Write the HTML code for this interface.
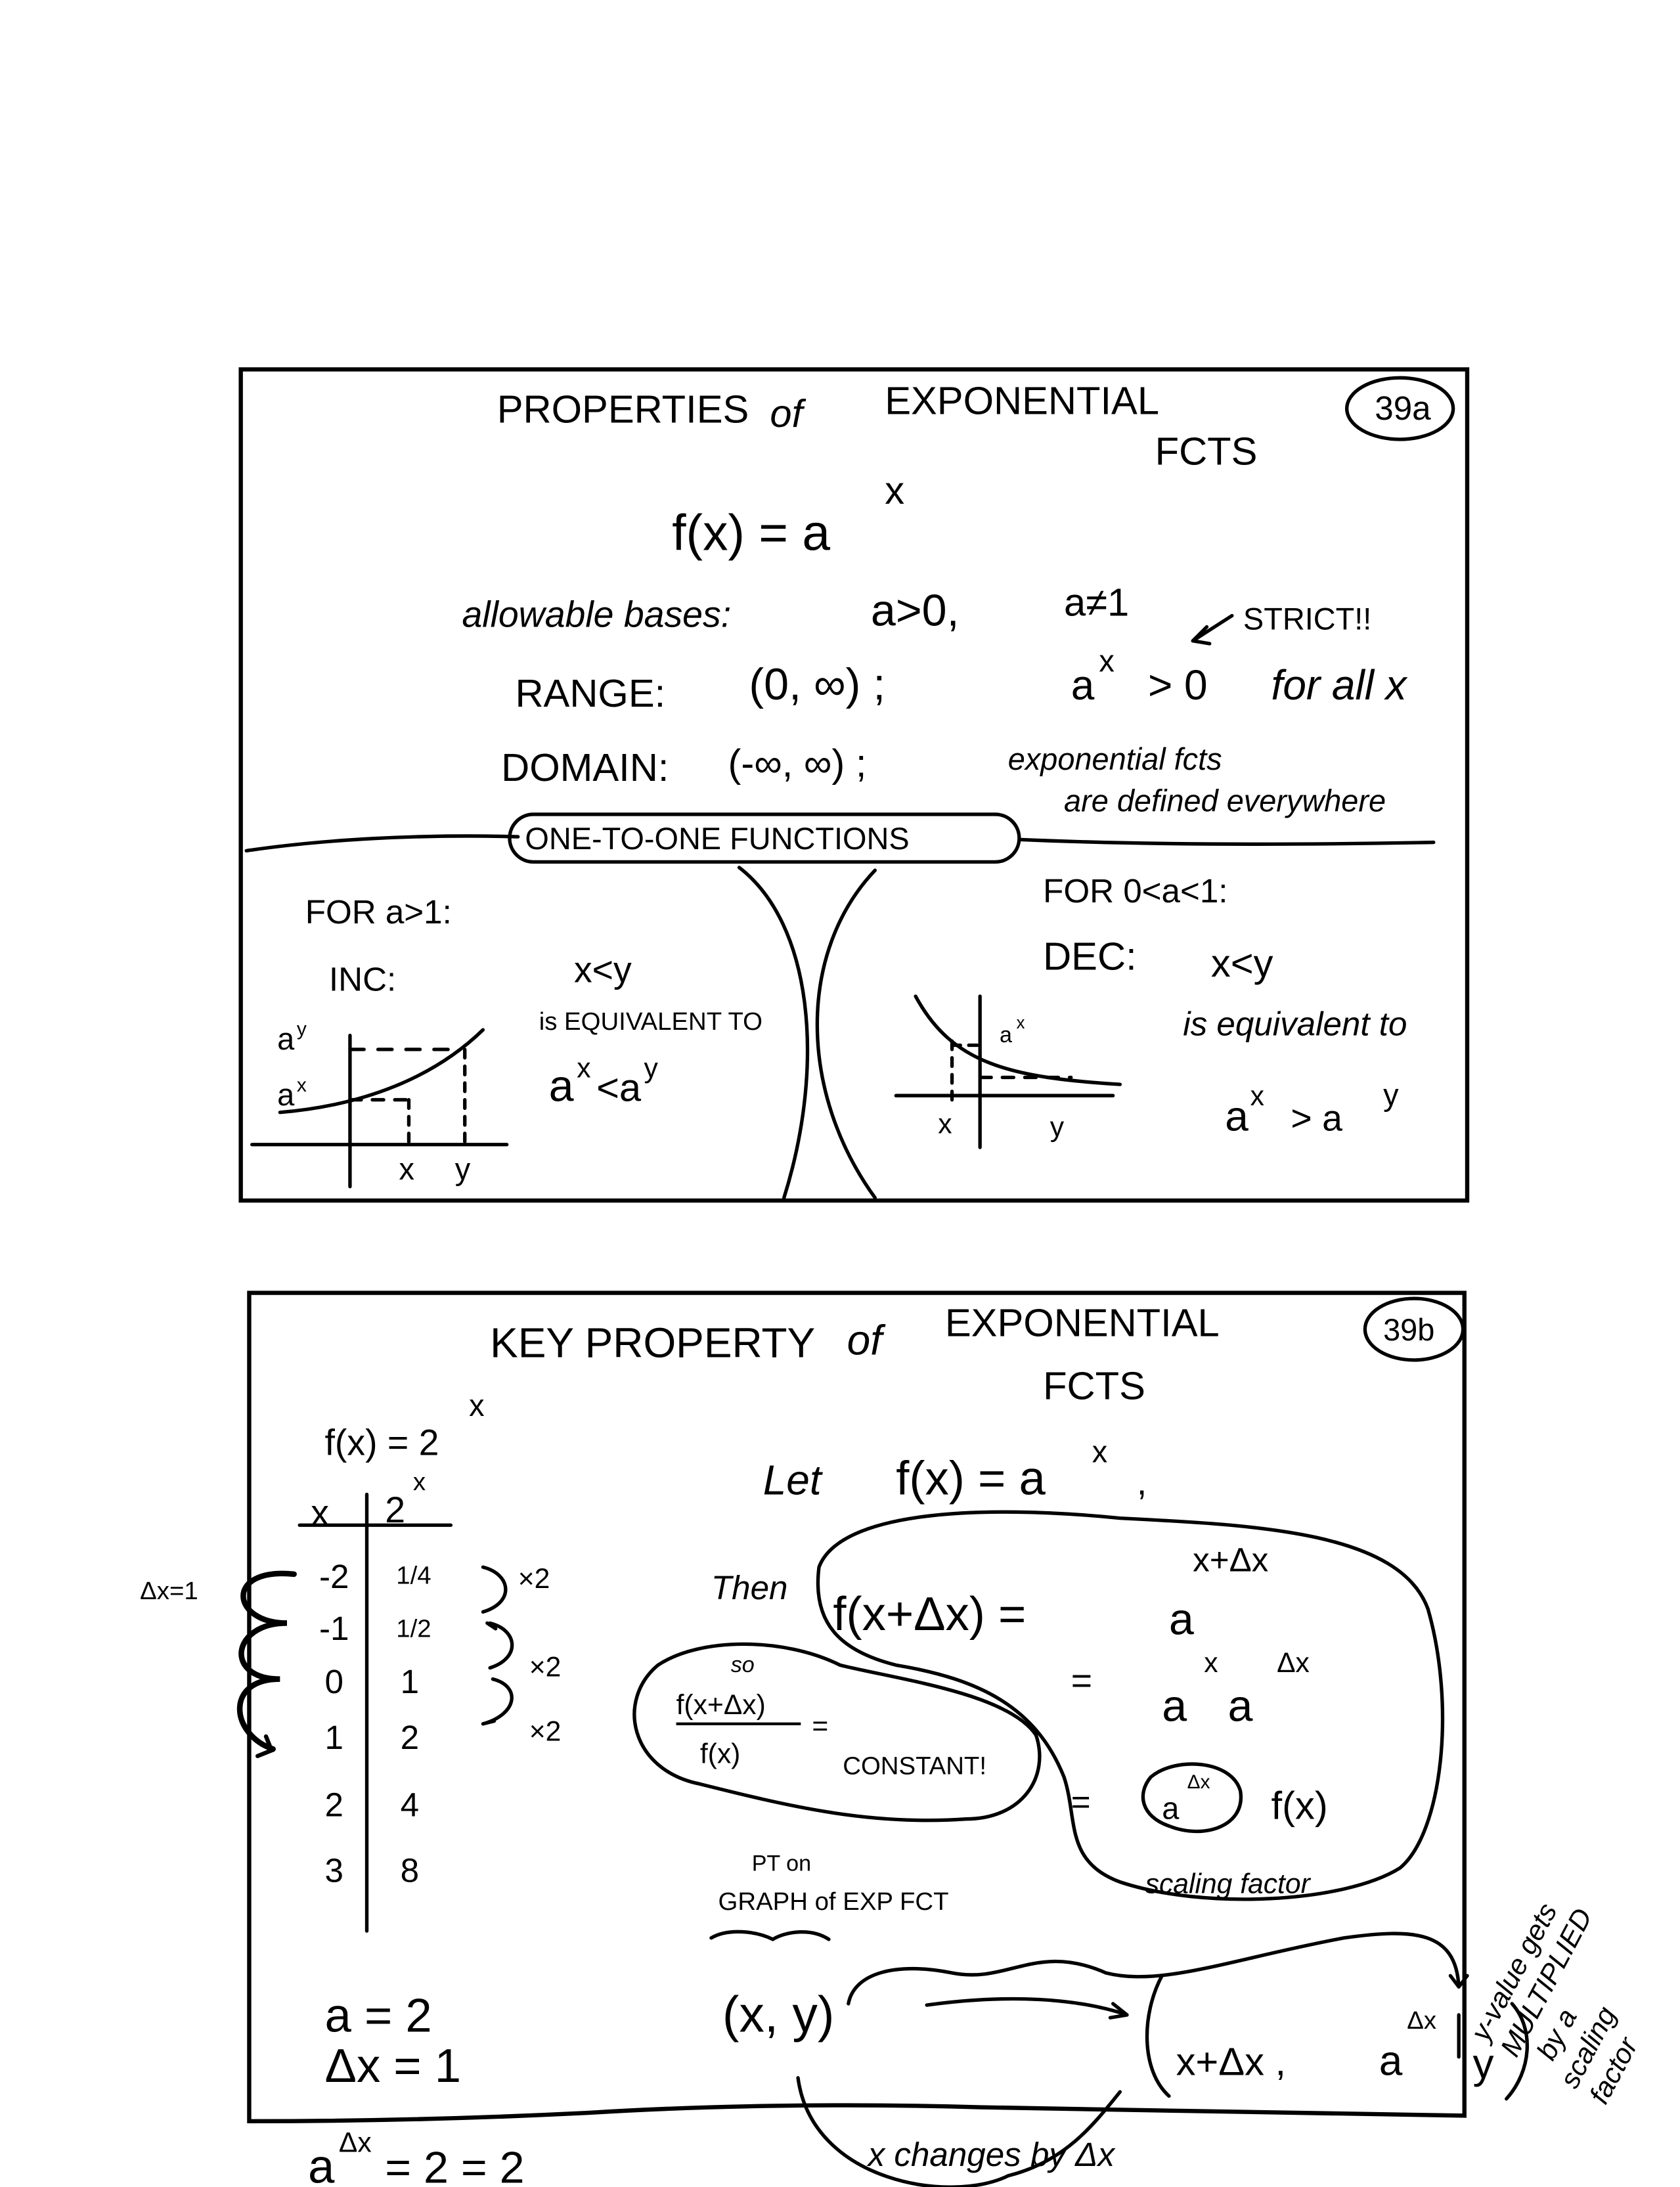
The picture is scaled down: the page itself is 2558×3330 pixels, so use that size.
<!DOCTYPE html>
<html><head><meta charset="utf-8">
<style>
html,body{margin:0;padding:0;background:#fff;}
svg{display:block;}
text{font-family:"Liberation Sans",sans-serif;fill:#000;}
.c{font-style:italic;}
</style></head>
<body>
<svg width="2558" height="3330" viewBox="0 0 1200 1563" preserveAspectRatio="none" xmlns="http://www.w3.org/2000/svg">
<g fill="none" stroke="#000" stroke-width="2.5" stroke-linecap="round">
<rect x="172" y="264" width="876" height="594" stroke-width="3"/>
<path d="M178 924 H1046 V1512 C900 1510 830 1508 700 1506 C600 1503 500 1505 420 1510 C340 1514 260 1516 178 1516 Z" stroke-width="3"/>
<ellipse cx="1000" cy="292" rx="38" ry="22"/>
<ellipse cx="1010" cy="950" rx="35" ry="22"/>
<path d="M176 608 C230 600 300 596 370 598"/>
<path d="M728 600 C820 604 920 604 1024 602"/>
<rect x="364" y="582" width="364" height="34" rx="17"/>
<path d="M528 620 C580 660 590 760 560 856"/>
<path d="M625 622 C570 680 570 780 625 856"/>
<path d="M180 818 H362"/>
<path d="M250 740 V848"/>
<path d="M200 795 C260 790 310 770 345 736"/>
<path d="M250 750 H330" stroke-dasharray="10 10"/>
<path d="M250 786 H292" stroke-dasharray="8 8"/>
<path d="M292 786 V818" stroke-dasharray="6 6"/>
<path d="M332 750 V818" stroke-dasharray="6 6"/>
<path d="M640 783 H795"/>
<path d="M700 712 V820"/>
<path d="M654 712 C680 760 720 770 800 775"/>
<path d="M680 744 V790" stroke-dasharray="6 6"/>
<path d="M680 747 H700" stroke-dasharray="6 6"/>
<path d="M700 770 H765" stroke-dasharray="8 8"/>
<path d="M880 440 L852 458 M852 458 L862 448 M852 458 L864 460"/>
<path d="M214 1090 H322"/>
<path d="M262 1068 V1380"/>
<path d="M345 1120 C365 1125 368 1145 345 1152"/>
<path d="M350 1160 C370 1165 372 1185 350 1192 M354 1164 l-6 -4"/>
<path d="M352 1200 C372 1205 370 1225 345 1232 M345 1232 l8 -2"/>
<path d="M210 1125 C160 1120 165 1160 205 1160 C165 1160 160 1200 200 1200 C160 1200 165 1240 195 1250" stroke-width="4"/>
<path d="M184 1255 l10 -4 l-4 -10" stroke-width="3"/>
<path d="M585 1120 C600 1080 700 1075 800 1085 C900 1090 1000 1095 1020 1150 C1040 1220 1030 1310 1000 1335 C960 1360 860 1365 800 1345 C760 1330 770 1300 760 1270 C740 1220 700 1200 640 1190 C600 1180 580 1160 585 1120 Z"/>
<path d="M470 1190 C500 1170 560 1170 600 1190 C640 1200 720 1210 740 1240 C750 1270 730 1300 690 1300 C620 1305 560 1290 500 1275 C450 1265 440 1215 470 1190 Z"/>
<path d="M822 1270 C840 1255 880 1258 886 1280 C890 1305 860 1315 835 1305 C815 1298 812 1282 822 1270 Z"/>
<path d="M508 1385 C520 1378 540 1380 552 1386 C562 1380 580 1378 592 1386"/>
<path d="M662 1433 C720 1425 770 1428 805 1440 M805 1440 l-10 -8 M805 1440 l-12 2"/>
<path d="M606 1432 C610 1410 640 1402 680 1410 C720 1418 740 1388 790 1410 C830 1420 880 1400 960 1385 C1010 1378 1040 1380 1042 1420 M1042 1420 l-6 -8 M1042 1420 l6 -8"/>
<path d="M570 1485 C580 1560 680 1575 720 1555 C760 1545 780 1520 800 1495"/>
<path d="M830 1412 C815 1440 815 1480 835 1498"/>
<path d="M1080 1432 C1096 1450 1094 1480 1076 1500"/>
<path d="M1042 1440 V1470"/>
</g>
<text x="355" y="302" font-size="28">PROPERTIES</text>
<text x="550" y="305" font-size="28" class="c">of</text>
<text x="632" y="296" font-size="28">EXPONENTIAL</text>
<text x="825" y="332" font-size="28">FCTS</text>
<text x="982" y="300" font-size="24">39a</text>
<text x="480" y="393" font-size="36">f(x) = a</text>
<text x="632" y="360" font-size="28">x</text>
<text x="330" y="448" font-size="26" class="c">allowable bases:</text>
<text x="622" y="447" font-size="32">a&gt;0,</text>
<text x="760" y="440" font-size="28">a≠1</text>
<text x="888" y="450" font-size="22">STRICT!!</text>
<text x="368" y="505" font-size="28">RANGE:</text>
<text x="535" y="500" font-size="32">(0, ∞) ;</text>
<text x="765" y="500" font-size="30">a</text>
<text x="785" y="480" font-size="22">x</text>
<text x="820" y="500" font-size="30">&gt; 0</text>
<text x="908" y="500" font-size="30" class="c">for all x</text>
<text x="358" y="558" font-size="28">DOMAIN:</text>
<text x="520" y="555" font-size="28">(-∞, ∞) ;</text>
<text x="720" y="550" font-size="22" class="c">exponential fcts</text>
<text x="760" y="580" font-size="22" class="c">are defined everywhere</text>
<text x="375" y="607" font-size="22">ONE-TO-ONE FUNCTIONS</text>
<text x="218" y="660" font-size="24">FOR a&gt;1:</text>
<text x="235" y="708" font-size="24">INC:</text>
<text x="410" y="702" font-size="26">x&lt;y</text>
<text x="385" y="736" font-size="18">is EQUIVALENT TO</text>
<text x="392" y="787" font-size="32">a</text>
<text x="412" y="770" font-size="20">x</text>
<text x="426" y="787" font-size="28">&lt;a</text>
<text x="460" y="770" font-size="20">y</text>
<text x="198" y="750" font-size="22">a</text><text x="212" y="740" font-size="14">y</text>
<text x="198" y="790" font-size="22">a</text><text x="212" y="780" font-size="14">x</text>
<text x="285" y="843" font-size="22">x</text><text x="325" y="843" font-size="22">y</text>
<text x="745" y="645" font-size="24">FOR 0&lt;a&lt;1:</text>
<text x="745" y="693" font-size="28">DEC:</text>
<text x="865" y="698" font-size="28">x&lt;y</text>
<text x="845" y="740" font-size="24" class="c">is equivalent to</text>
<text x="875" y="808" font-size="30">a</text><text x="893" y="790" font-size="20">x</text>
<text x="922" y="808" font-size="26">&gt; a</text><text x="988" y="790" font-size="22">y</text>
<text x="714" y="745" font-size="16">a</text><text x="726" y="735" font-size="12">x</text>
<text x="670" y="810" font-size="20">x</text><text x="750" y="812" font-size="20">y</text>
<text x="350" y="970" font-size="30">KEY PROPERTY</text>
<text x="605" y="968" font-size="30" class="c">of</text>
<text x="675" y="955" font-size="28">EXPONENTIAL</text>
<text x="745" y="1000" font-size="28">FCTS</text>
<text x="988" y="958" font-size="22">39b</text>
<text x="232" y="1040" font-size="26">f(x) = 2</text>
<text x="335" y="1012" font-size="22">x</text>
<text x="222" y="1090" font-size="26">x</text>
<text x="275" y="1088" font-size="26">2</text><text x="295" y="1065" font-size="18">x</text>
<g font-size="24">
<text x="228" y="1135">-2</text><text x="283" y="1132" font-size="18">1/4</text>
<text x="228" y="1172">-1</text><text x="283" y="1170" font-size="18">1/2</text>
<text x="232" y="1210">0</text><text x="286" y="1210">1</text>
<text x="232" y="1250">1</text><text x="286" y="1250">2</text>
<text x="232" y="1298">2</text><text x="286" y="1298">4</text>
<text x="232" y="1345">3</text><text x="286" y="1345">8</text>
<text x="370" y="1135" font-size="20">×2</text>
<text x="378" y="1198" font-size="20">×2</text>
<text x="378" y="1244" font-size="20">×2</text>
</g>
<text x="100" y="1143" font-size="18">Δx=1</text>
<text x="232" y="1452" font-size="34">a = 2</text>
<text x="232" y="1488" font-size="34">Δx = 1</text>
<text x="220" y="1560" font-size="34">a</text>
<text x="242" y="1538" font-size="20">Δx</text>
<text x="275" y="1560" font-size="32">= 2 = 2</text>
<text x="545" y="1068" font-size="30" class="c">Let</text>
<text x="640" y="1068" font-size="34">f(x) = a</text>
<text x="780" y="1045" font-size="22">x</text><text x="812" y="1068" font-size="26">,</text>
<text x="508" y="1143" font-size="24" class="c">Then</text>
<text x="595" y="1165" font-size="34">f(x+Δx) =</text>
<text x="835" y="1168" font-size="32">a</text>
<text x="852" y="1123" font-size="24">x+Δx</text>
<text x="765" y="1210" font-size="26">=</text>
<text x="830" y="1230" font-size="32">a</text><text x="860" y="1195" font-size="20">x</text>
<text x="877" y="1230" font-size="32">a</text><text x="912" y="1195" font-size="20">Δx</text>
<text x="522" y="1195" font-size="16" class="c">so</text>
<text x="483" y="1225" font-size="20">f(x+Δx)</text>
<path d="M483 1232 H572" stroke="#000" stroke-width="2"/>
<text x="500" y="1260" font-size="20">f(x)</text>
<text x="580" y="1240" font-size="20">=</text>
<text x="602" y="1268" font-size="18">CONSTANT!</text>
<text x="765" y="1296" font-size="24">=</text>
<text x="830" y="1300" font-size="22">a</text><text x="848" y="1278" font-size="14">Δx</text>
<text x="908" y="1300" font-size="28">f(x)</text>
<text x="818" y="1353" font-size="20" class="c">scaling factor</text>
<text x="537" y="1337" font-size="16">PT on</text>
<text x="513" y="1365" font-size="18">GRAPH of EXP FCT</text>
<text x="516" y="1452" font-size="36">(x, y)</text>
<text x="840" y="1483" font-size="28">x+Δx ,</text>
<text x="985" y="1483" font-size="30">a</text>
<text x="1005" y="1450" font-size="18">Δx</text>
<text x="1052" y="1485" font-size="30">y</text>
<g transform="translate(1062,1460) rotate(-62)" font-size="20" class="c">
<text x="0" y="0">y-value gets</text>
<text x="0" y="24">MULTIPLIED</text>
<text x="10" y="48">by a</text>
<text x="0" y="72">scaling</text>
<text x="0" y="96">factor</text>
</g>
<text x="620" y="1548" font-size="24" class="c">x changes by Δx</text>
</svg>
</body></html>
